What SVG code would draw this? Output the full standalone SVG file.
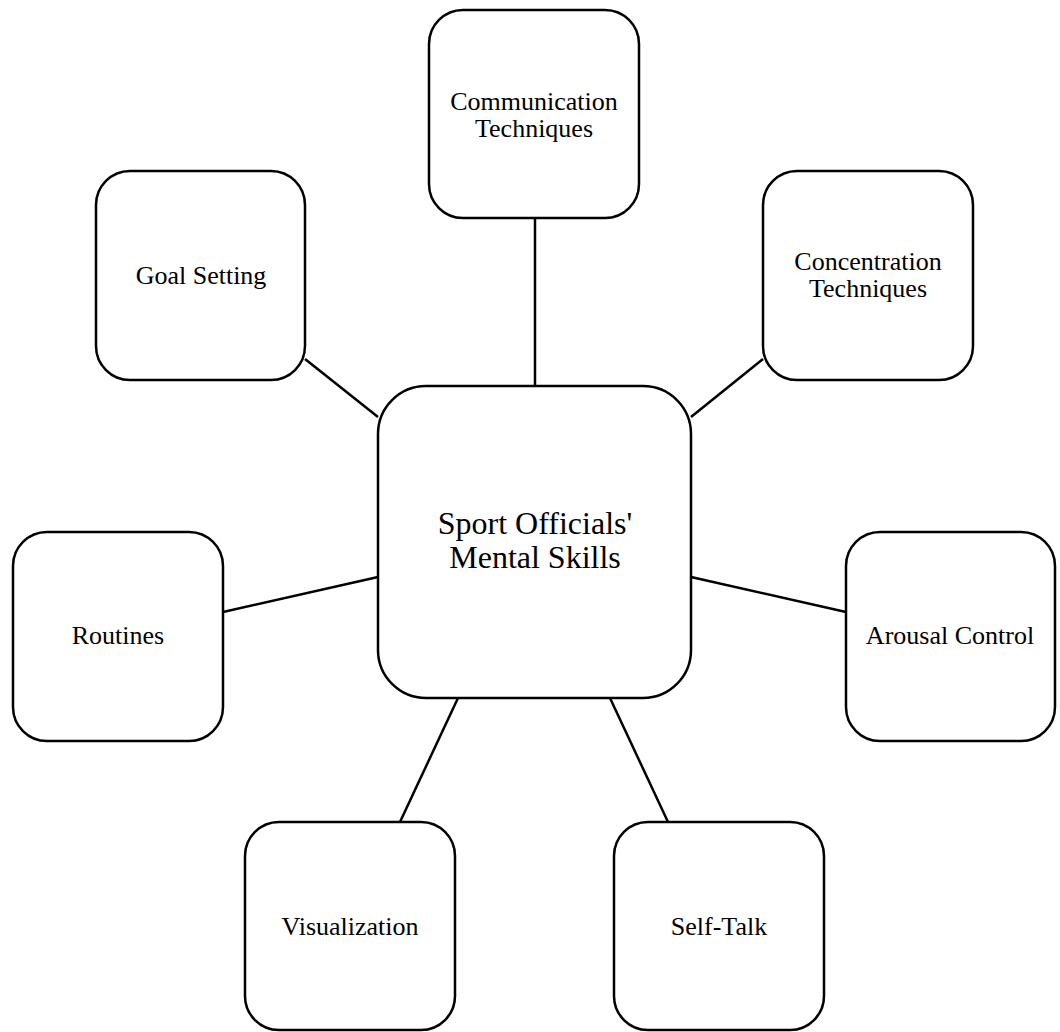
<svg xmlns="http://www.w3.org/2000/svg" width="1060" height="1032" viewBox="0 0 1060 1032">
<style>
.box{fill:#fff;stroke:#000;stroke-width:2.5}
.lbl{font-family:"Liberation Serif","Times New Roman",serif;font-size:26px;fill:#000;text-anchor:middle}
.main{font-size:32px}
.conn line{stroke:#000;stroke-width:2.5}
</style>
<rect width="1060" height="1032" fill="#fff"/>
<g id="connectors" class="conn">
<line x1="535" y1="218" x2="535" y2="386"/>
<line x1="305" y1="359" x2="378" y2="417"/>
<line x1="763" y1="359" x2="691" y2="417"/>
<line x1="223" y1="612" x2="378" y2="577"/>
<line x1="846" y1="612" x2="691" y2="577"/>
<line x1="458" y1="698" x2="400" y2="822"/>
<line x1="610" y1="698" x2="668" y2="822"/>
</g>
<g id="center">
<rect class="box" x="378" y="386" width="313" height="312" rx="48"/>
<text class="lbl main" x="535" y="534">Sport Officials'</text>
<text class="lbl main" x="535" y="568">Mental Skills</text>
</g>
<g id="communication">
<rect class="box" x="429" y="10" width="210" height="208" rx="34"/>
<text class="lbl" x="534" y="110">Communication</text>
<text class="lbl" x="534" y="137">Techniques</text>
</g>
<g id="goal">
<rect class="box" x="96" y="171" width="209" height="209" rx="34"/>
<text class="lbl" x="201" y="284">Goal Setting</text>
</g>
<g id="concentration">
<rect class="box" x="763" y="171" width="210" height="209" rx="34"/>
<text class="lbl" x="868" y="270">Concentration</text>
<text class="lbl" x="868" y="297">Techniques</text>
</g>
<g id="routines">
<rect class="box" x="13" y="532" width="210" height="209" rx="34"/>
<text class="lbl" x="118" y="644">Routines</text>
</g>
<g id="arousal">
<rect class="box" x="846" y="532" width="209" height="209" rx="34"/>
<text class="lbl" x="950" y="644">Arousal Control</text>
</g>
<g id="visualization">
<rect class="box" x="245" y="822" width="210" height="208" rx="34"/>
<text class="lbl" x="350" y="935">Visualization</text>
</g>
<g id="selftalk">
<rect class="box" x="614" y="822" width="210" height="208" rx="34"/>
<text class="lbl" x="719" y="935">Self-Talk</text>
</g>
</svg>
